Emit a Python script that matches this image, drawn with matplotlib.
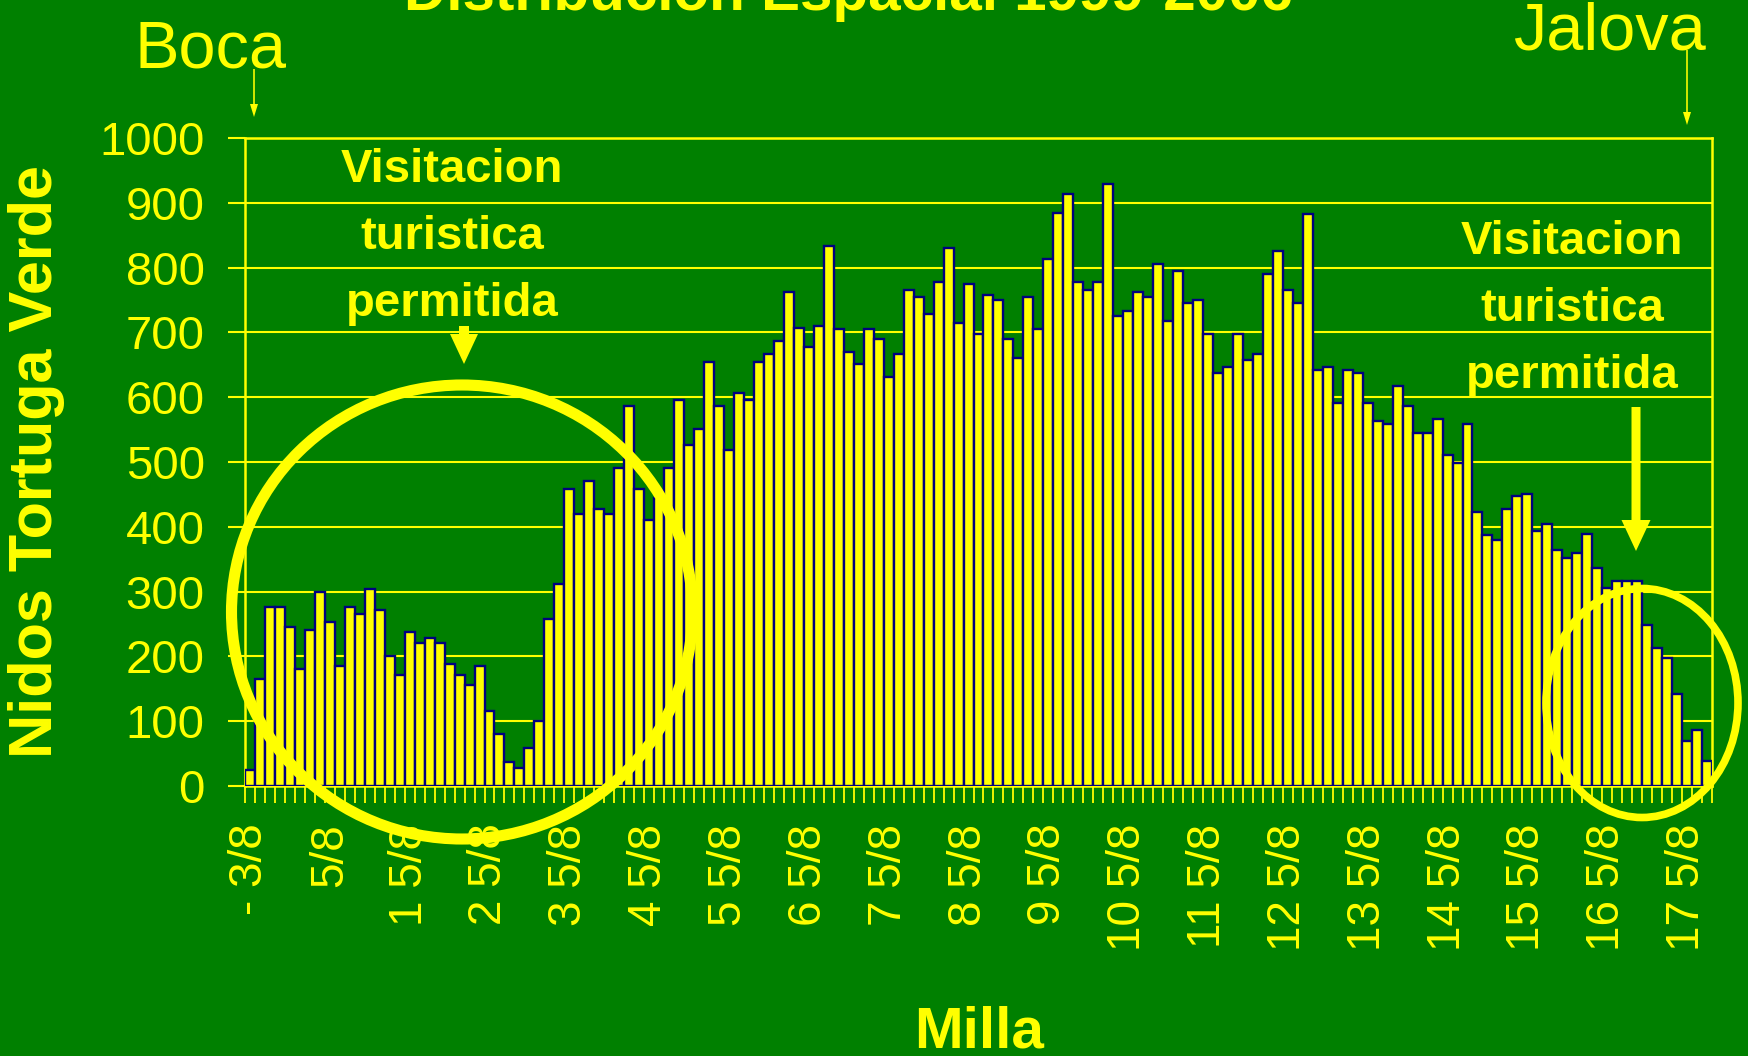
import numpy as np
import matplotlib
matplotlib.use("Agg")
import matplotlib.pyplot as plt
from matplotlib.patches import Ellipse, FancyArrow

plt.rcParams['font.family'] = ['Liberation Sans', 'DejaVu Sans']

# nidos por 1/8 de milla (Boca -> Jalova)
nidos = [25, 165, 276, 276, 245, 181, 241, 300, 253, 185,
         276, 265, 304, 272, 201, 172, 237, 221, 228, 221,
         188, 172, 156, 185, 116, 81, 37, 28, 58, 101,
         257, 312, 459, 419, 471, 427, 419, 491, 587, 459,
         411, 445, 491, 596, 527, 551, 655, 587, 519, 607,
         596, 655, 666, 687, 763, 707, 678, 710, 833, 706,
         670, 651, 706, 690, 631, 667, 766, 754, 729, 778,
         830, 714, 774, 698, 758, 750, 690, 661, 754, 706,
         813, 885, 913, 778, 765, 778, 929, 726, 733, 762,
         754, 806, 718, 794, 745, 750, 698, 638, 647, 698,
         658, 667, 790, 825, 766, 745, 882, 642, 647, 591,
         642, 638, 591, 563, 558, 618, 587, 544, 544, 567,
         511, 499, 559, 423, 388, 380, 427, 447, 451, 393,
         405, 364, 352, 360, 389, 337, 305, 316, 316, 316,
         249, 213, 197, 142, 69, 86, 38]

etiquetas = ["- 3/8", "5/8"] + ["%d 5/8" % m for m in range(1, 18)]
paso_etiqueta = 8

yticks = list(range(0, 1001, 100))

AMARILLO = '#FFFF00'
VERDE = '#008000'
AZUL = '#000080'

W, H = 1749, 1056
fig = plt.figure(figsize=(W / 100, H / 100), dpi=100, facecolor=VERDE)
ax = fig.add_axes([245 / W, 1 - 786 / H, (1712 - 245) / W, (786 - 138) / H])
ax.set_facecolor(VERDE)

x = np.arange(len(nidos))
ax.bar(x, nidos, width=1.0, color=AMARILLO, edgecolor=AZUL, linewidth=1.7, zorder=3)

ax.set_xlim(-0.5, len(nidos) - 0.5)
ax.set_ylim(0, 1000)
ax.set_yticks(yticks)
ax.yaxis.grid(True, color=AMARILLO, linewidth=1.5, zorder=0)
ax.set_axisbelow(True)

ax.set_xticks(x[::paso_etiqueta])
ax.set_xticklabels(etiquetas, rotation=90)
ax.set_xticks(np.arange(-0.5, len(nidos)), minor=True)
ax.tick_params(axis='x', which='major', length=0, pad=27, labelsize=33, colors=AMARILLO)
ax.tick_params(axis='x', which='minor', length=12, width=1.3, color=AMARILLO, direction='out')
ax.tick_params(axis='y', which='major', length=12, width=1.5, pad=17, labelsize=34,
               colors=AMARILLO, direction='out')
for s in ax.spines.values():
    s.set_color(AMARILLO)
    s.set_linewidth(1.8)


def fpos(px, py):
    return px / W, 1 - py / H


# textos
fig.text(*fpos(849, 10), "Distribución Espacial 1999-2006", fontsize=42, weight='bold',
         color=AMARILLO, ha='center', va='baseline')
fig.text(*fpos(211, 68), "Boca", fontsize=48, color=AMARILLO, ha='center', va='baseline')
fig.text(*fpos(1609, 50), "Jalova", fontsize=48, color=AMARILLO, ha='center', va='baseline')
fig.text(*fpos(37, 462), "Nidos Tortuga Verde", fontsize=44, weight='bold', color=AMARILLO,
         rotation=90, ha='center', va='center')
fig.text(*fpos(979, 1048), "Milla", fontsize=42, weight='bold', color=AMARILLO,
         ha='center', va='baseline')

for cx, ys in [(452, [182, 249, 316]), (1572, [254, 321, 388])]:
    for linea, yy in zip(["Visitacion", "turistica", "permitida"], ys):
        fig.text(*fpos(cx, yy), linea, fontsize=34, weight='bold', color=AMARILLO,
                 ha='center', va='baseline')

# flechas
def flecha(px, y0, y1, ancho, ancho_cabeza, largo_cabeza):
    x0, fy0 = fpos(px, y0)
    _, fy1 = fpos(px, y1)
    fig.add_artist(FancyArrow(x0, fy0, 0, fy1 - fy0, width=ancho / W,
                              head_width=ancho_cabeza / W, head_length=largo_cabeza / H,
                              length_includes_head=True, color=AMARILLO, lw=0,
                              transform=fig.transFigure))


flecha(254, 69, 117, 1.6, 8, 13)
flecha(1687, 50, 125, 1.6, 8, 13)
flecha(464, 326, 364, 10, 28, 30)
flecha(1636, 407, 551, 9, 29, 31)

# circulos
fig.add_artist(Ellipse(fpos(462, 612), 461 / W, 454 / H, fill=False, edgecolor=AMARILLO,
                       linewidth=8, transform=fig.transFigure))
fig.add_artist(Ellipse(fpos(1642, 703), 192 / W, 229 / H, fill=False, edgecolor=AMARILLO,
                       linewidth=5.5, transform=fig.transFigure))

fig.savefig("out.png", dpi=100, facecolor=VERDE)
